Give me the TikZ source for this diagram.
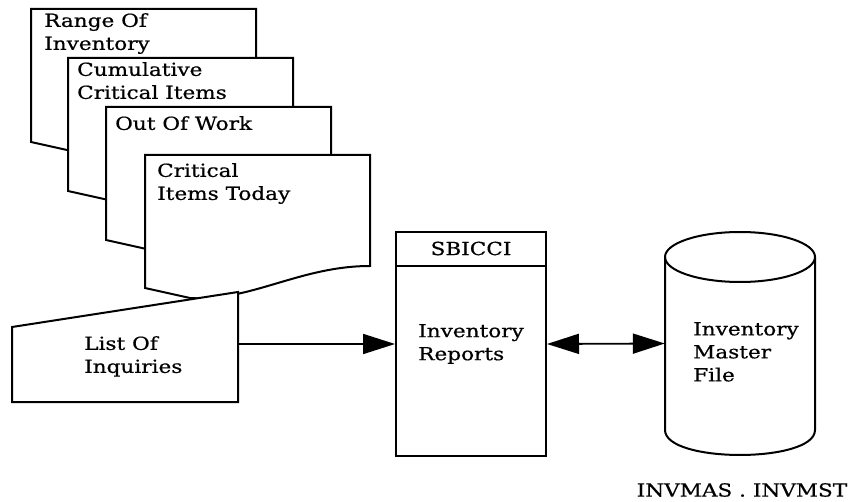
\documentclass[tikz,border=0pt]{standalone}
\usepackage{fontspec}
\setmainfont{DejaVu Serif}[FakeStretch=1.2, FakeBold=0.6]
\usetikzlibrary{arrows.meta}

\begin{document}
\begin{tikzpicture}[x=1pt, y=-1pt, every node/.style={font=\fontsize{18}{23}\selectfont}]
  \tikzstyle{doc} = [line width=2pt, fill=white]
  \tikzstyle{lbl} = [anchor=north west, align=left, inner sep=0pt]
  \tikzstyle{proc} = [rectangle, draw, line width=2pt, minimum width=150pt, minimum height=224pt, align=left]
  \tikzstyle{arrow} = [line width=1.8pt, -{Triangle[length=32pt, width=20pt]}]
  \tikzstyle{dblarrow} = [line width=1.8pt, {Triangle[length=32pt, width=20pt]}-{Triangle[length=32pt, width=20pt]}]
  \useasboundingbox (0,0) rectangle (856,502);
  % stack of printed reports
  \draw[doc] (31,9) -- (256,9) -- (256,120) .. controls (186,120) and (136,156) .. (76,152) -- (31,142) -- cycle;
  \node (rng) [lbl] at (44,13) {Range Of\\Inventory};
  \draw[doc] (68,58) -- (293,58) -- (293,169) .. controls (223,169) and (173,205) .. (113,201) -- (68,191) -- cycle;
  \node (cum) [lbl] at (77,62) {Cumulative\\Critical Items};
  \draw[doc] (106,107) -- (331,107) -- (331,218) .. controls (261,218) and (211,254) .. (151,250) -- (106,240) -- cycle;
  \node (oow) [lbl] at (115,116) {Out Of Work};
  \draw[doc] (145,155) -- (370,155) -- (370,266) .. controls (300,266) and (250,302) .. (190,298) -- (145,288) -- cycle;
  \node (cit) [lbl] at (157,163) {Critical\\Items Today};
  % manual input
  \draw[doc] (12,327) -- (238,292) -- (238,402) -- (12,402) -- cycle;
  \node (inq) [lbl] at (84,336) {List Of\\Inquiries};
  \coordinate (inqout) at (238,344);
  % program
  \node (rep) [proc] at (471,344) {Inventory\\Reports};
  \draw[line width=2pt] ([yshift=-35pt]rep.north west) -- ([yshift=-35pt]rep.north east);
  \node (sbc) at ([yshift=-17.5pt]rep.north) {SBICCI};
  % disk file
  \node (mast) [minimum width=150pt, minimum height=223pt] at (740,343.5) {};
  \draw[line width=2pt] (740,257) ellipse [x radius=75, y radius=25];
  \draw[line width=2pt] (665,257) -- (665,430) .. controls (665,463.3) and (815,463.3) .. (815,430) -- (815,257);
  \node (mlbl) [lbl] at (693,322) {Inventory\\Master\\File};
  \node (dsn) at (742,490) {INVMAS . INVMST};
  \draw[arrow] (inqout) -- (rep.west);
  \draw[dblarrow] (rep.east) -- (mast.west);
\end{tikzpicture}
\end{document}
